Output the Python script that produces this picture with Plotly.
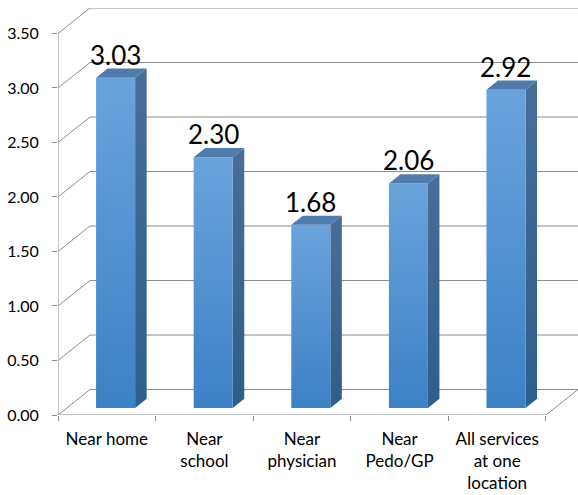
import plotly.graph_objects as go

# Mean scores per preferred location
categories = ["Near home", "Near<br>school", "Near<br>physician", "Near<br>Pedo/GP", "All services<br>at one<br>location"]
values = [3.03, 2.30, 1.68, 2.06, 2.92]
y_ticks = [0.0, 0.5, 1.0, 1.5, 2.0, 2.5, 3.0, 3.5]

# Oblique 3D projection: a point at depth d (0 = front, 1 = back wall)
DEPTH_X = 0.328   # x shift (category units) at full depth
DEPTH_Y = 0.2335  # y shift (value units) at full depth
BAR_FRONT, BAR_BACK = 0.275, 0.635
BAR_L, BAR_R = 0.30, 0.70
Y_MAX = y_ticks[-1]
n = len(categories)

GRID = "#8c8c8c"
FONT = "Lato, 'Open Sans', sans-serif"


def proj(x, v, d):
    return x + DEPTH_X * d, v + DEPTH_Y * d


fig = go.Figure()


def line(xs, ys, color=GRID, width=1):
    fig.add_trace(go.Scatter(x=xs, y=ys, mode="lines", line=dict(color=color, width=width),
                             hoverinfo="skip", showlegend=False))


# back wall gridlines and the diagonals that join them to the value axis
for t in y_ticks:
    bx0, by = proj(0, t, 1)
    bx1, _ = proj(n, t, 1)
    line([bx0, bx1], [by, by])
    line([0, bx0], [t, by])

# front value axis, front floor edge and right floor edge
line([0, 0], [0, Y_MAX])
line([0, n], [0, 0])
rx, ry = proj(n, 0, 1)
line([n, rx], [0, ry])


def face(pts, fill=None, gradient=None):
    xs = [p[0] for p in pts] + [pts[0][0]]
    ys = [p[1] for p in pts] + [pts[0][1]]
    kw = dict(x=xs, y=ys, mode="lines", fill="toself", line=dict(width=0),
              hoverinfo="skip", showlegend=False)
    if gradient:
        kw["fillgradient"] = dict(type="vertical", colorscale=gradient)
    else:
        kw["fillcolor"] = fill
    fig.add_trace(go.Scatter(**kw))


for i, v in enumerate(values):
    xl, xr = i + BAR_L, i + BAR_R
    front = [proj(xl, 0, BAR_FRONT), proj(xr, 0, BAR_FRONT), proj(xr, v, BAR_FRONT), proj(xl, v, BAR_FRONT)]
    side = [proj(xr, 0, BAR_FRONT), proj(xr, 0, BAR_BACK), proj(xr, v, BAR_BACK), proj(xr, v, BAR_FRONT)]
    top = [proj(xl, v, BAR_FRONT), proj(xr, v, BAR_FRONT), proj(xr, v, BAR_BACK), proj(xl, v, BAR_BACK)]
    face(side, gradient=[[0, "#2d5e8c"], [1, "#476e98"]])
    face(front, gradient=[[0, "#3c81c5"], [1, "#6aa3dc"]])
    face(top, fill="#4f7cab")
    lx, ly = proj(i + 0.5, v, BAR_FRONT)
    fig.add_annotation(x=lx, y=ly, text=f"{v:.2f}", showarrow=False, yanchor="bottom", yshift=5,
                       font=dict(family=FONT, size=26, color="#000000"))

fig.update_layout(
    width=578, height=495,
    margin=dict(l=58, r=0, t=8, b=80),
    paper_bgcolor="white", plot_bgcolor="white",
    showlegend=False,
    xaxis=dict(range=[0, n + DEPTH_X], tickvals=[i + 0.5 for i in range(n)], ticktext=categories,
               showgrid=False, zeroline=False, showline=False, ticks="",
               ticklabelstandoff=12,
               tickfont=dict(family=FONT, size=17, color="#000000"),
               minor=dict(ticks="outside", tick0=0, dtick=1, ticklen=5, tickcolor=GRID, showgrid=False),
               fixedrange=True),
    yaxis=dict(range=[0, Y_MAX + DEPTH_Y], tickvals=y_ticks, ticktext=[f"{t:.2f}" for t in y_ticks],
               showgrid=False, zeroline=False, showline=False, ticks="outside", ticklen=5,
               tickcolor=GRID, ticklabelstandoff=10,
               tickfont=dict(family=FONT, size=16, color="#000000"), fixedrange=True),
)

fig.write_html("out.html")
